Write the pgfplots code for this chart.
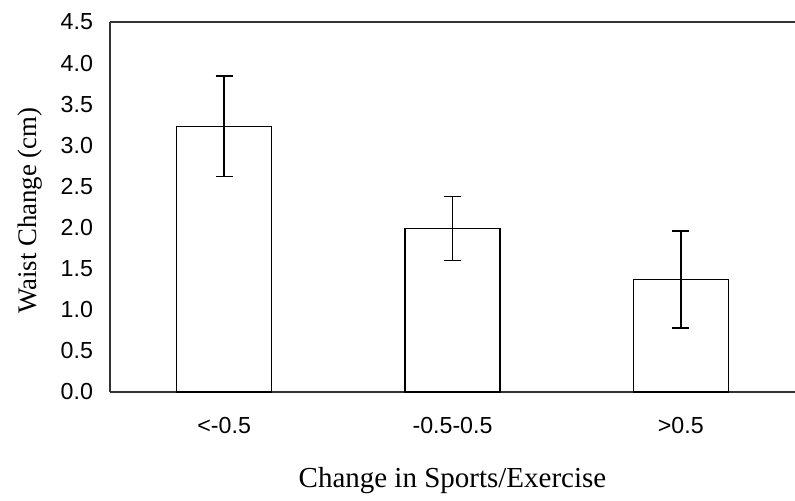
\documentclass[border=0pt]{standalone}
\usepackage{pgfplots}
\pgfplotsset{compat=1.18}
\usepackage{fontspec}
\setmainfont{Liberation Serif}
\newfontfamily\arial{Liberation Sans}
\begin{document}
\begin{tikzpicture}[x=1pt,y=1pt]
\useasboundingbox (0,0) rectangle (397.5,250);
\begin{axis}[
  at={(55pt,54pt)}, anchor=south west,
  scale only axis, width=342.5pt, height=185pt,
  xmin=-0.5, xmax=2.5, ymin=0, ymax=4.5,
  axis y line*=left,
  axis line style={black!80, line width=0.6pt},
  xtick={0,1,2},
  xticklabels={{<-0.5},{-0.5-0.5},{>0.5}},
  major x tick style={draw=none},
  extra x ticks={-0.5,0.5,1.5},
  extra x tick labels={},
  extra x tick style={tick align=outside, major tick length=3pt, tick style={black!80, line width=0.5pt}},
  ytick={0,0.5,...,4.5},
  y tick label style={/pgf/number format/fixed, /pgf/number format/fixed zerofill, /pgf/number format/precision=1, xshift=-5pt},
  major y tick style={draw=none},
  /pgf/number format/assume math mode=true,
  tick label style={font=\arial\fontsize{11.6}{13}\selectfont},
  xticklabel style={yshift=-9pt},
  xlabel={Change in Sports/Exercise},
  ylabel={Waist Change (cm)},
  xlabel style={font=\fontsize{14.5}{16}\selectfont, at={(axis description cs:0.5,-0.238)}, anchor=center},
  ylabel style={font=\fontsize{13.4}{15}\selectfont, at={(axis description cs:-0.117,0.49)}, anchor=center, rotate=0},
  clip=false,
]
\addplot[ybar, bar width=47.5pt, fill=white, draw=black, line width=0.8pt,
  error bars/.cd, y dir=both, y explicit,
  error mark options={rotate=90, mark size=4.25pt, line width=0.8pt, black},
  error bar style={line width=0.8pt, black}]
  coordinates {(0,3.23) +- (0,0.61) (1,1.99) +- (0,0.39) (2,1.37) +- (0,0.59)};
\end{axis}
\end{tikzpicture}
\end{document}
